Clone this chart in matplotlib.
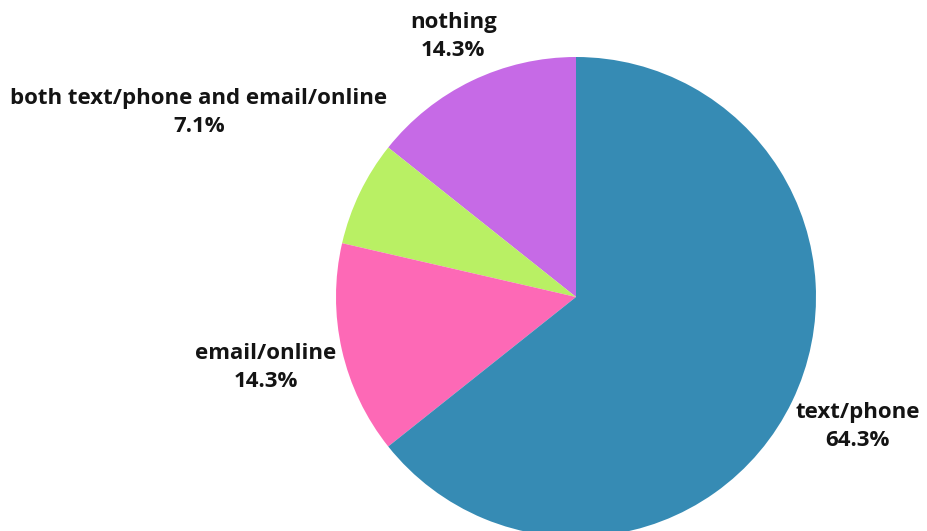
import numpy as np
import matplotlib
matplotlib.use("Agg")
import matplotlib.pyplot as plt

categories = ["nothing", "both text/phone and email/online", "email/online", "text/phone"]
percentages = [14.3, 7.1, 14.3, 64.3]
colors = ["#c66ae6", "#b9f064", "#fd69b6", "#368bb4"]

# label distance (in radii) and angular offset (degrees) for each slice label
label_dist = [1.2, 1.1, 1.04, 1.06]
label_angle_shift = [-0.5, -18.7, 3.7, -4.8]

W, H = 927, 531
fig = plt.figure(figsize=(W / 100, H / 100), dpi=100)
cx, cy, r = 576, 297, 240
ax = fig.add_axes([(cx - r) / W, (H - cy - r) / H, 2 * r / W, 2 * r / H])

wedges, _ = ax.pie(percentages, colors=colors, startangle=90, counterclock=True,
                   radius=1.0, wedgeprops=dict(linewidth=0))
ax.set_xlim(-1, 1)
ax.set_ylim(-1, 1)
ax.set_aspect("equal")
ax.axis("off")

for w, name, pct, d, sh in zip(wedges, categories, percentages, label_dist, label_angle_shift):
    mid = np.deg2rad((w.theta1 + w.theta2) / 2 + sh)
    x, y = d * np.cos(mid), d * np.sin(mid)
    ha = "left" if x > 0 else "right"
    if abs(x) < 0.6 and y > 0.9:
        ha = "center"
    ax.text(x, y, f"{name}\n{pct:.1f}%", ha=ha, va="center", multialignment="center",
            fontsize=16, fontweight="bold", family="Open Sans", color="#141414",
            linespacing=1.45, clip_on=False)

fig.savefig("out.png", dpi=100)
